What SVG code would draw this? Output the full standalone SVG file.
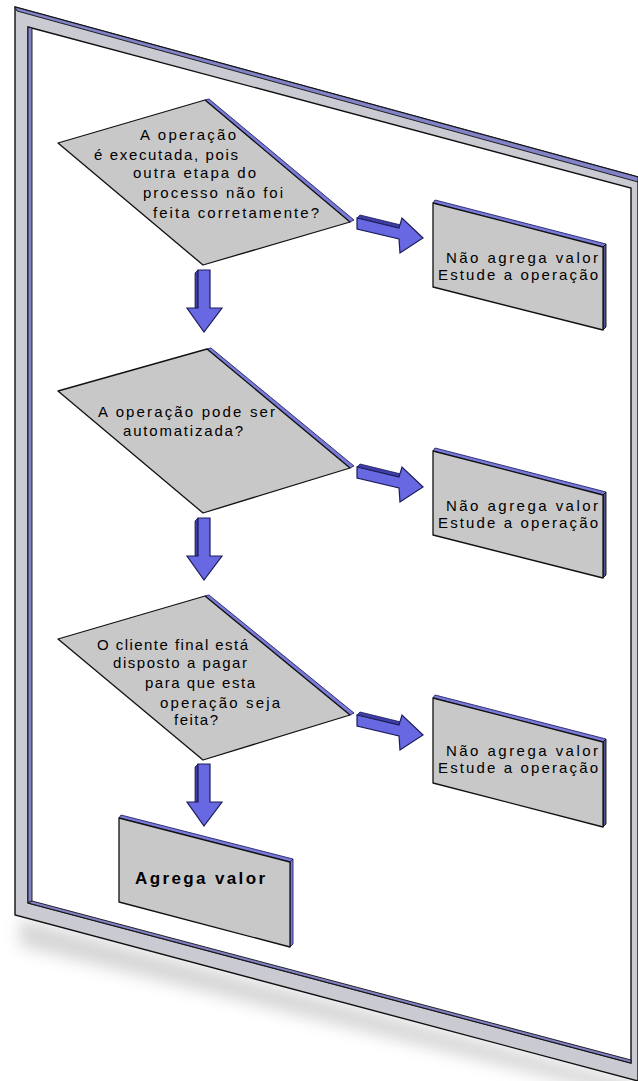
<svg xmlns="http://www.w3.org/2000/svg" width="638" height="1081" viewBox="0 0 638 1081">
<defs>
<filter id="blur" x="-20%" y="-50%" width="140%" height="200%"><feGaussianBlur stdDeviation="8"/></filter>
<style>
.frame{fill:#cacad3;stroke:#111;stroke-width:1.4;stroke-linejoin:miter}
.face{fill:#8282c6;stroke:#111;stroke-width:0.9}
.shape{fill:#c8c8c8;stroke:#111;stroke-width:1.3;stroke-linejoin:round}
.side{fill:#7a7ad8;stroke:#24246a;stroke-width:0.9}
.dside{fill:#50508e;stroke:#111;stroke-width:0.9}
.arrow{fill:#6868e2;stroke:#1c1c58;stroke-width:1.2;stroke-linejoin:miter}
.ashade{fill:#3e3ea6;stroke:#1c1c58;stroke-width:0.8}
.t{font-family:"Liberation Sans",Arial,sans-serif;font-size:15px;fill:#000}
.tb{font-family:"Liberation Sans",Arial,sans-serif;font-size:17px;font-weight:bold;fill:#000}
</style>
</defs>
<rect width="638" height="1081" fill="#fff"/>
<g id="frame">
<polygon points="20,918 634,1082 634,1098 20,946" fill="#999" opacity="0.4" filter="url(#blur)"/>
<path class="frame" fill-rule="evenodd" d="M15,7 L638,177 L638,1081 L15,915 Z M28,27 L631,188 L631,1063 L28,903 Z"/>
<polygon class="face" points="15,7 638,177 638,182 17,11"/>
<polygon class="face" points="28,27 32,28 32,901 28,903"/>
<polygon class="face" points="28,903 32,901 631,1060 631,1063"/>
</g>
<g id="connectors">
<g id="down1">
<polygon class="ashade" points="195,273 198,270 198,308 195,308"/>
<polygon class="arrow" points="198,270 210,270 210,308 222,308 204,332 187,308 198,308"/>
</g>
<g id="down2">
<polygon class="ashade" points="195,521 198,518 198,556 195,556"/>
<polygon class="arrow" points="198,518 210,518 210,556 222,556 204,580 187,556 198,556"/>
</g>
<g id="down3">
<polygon class="ashade" points="195,767 198,764 198,802 195,802"/>
<polygon class="arrow" points="198,764 210,764 210,802 222,802 204,826 187,802 198,802"/>
</g>
<g id="right1">
<polygon class="ashade" points="357,218 360,215 401,225 399,228"/>
<polygon class="arrow" points="357,218 399,228 402,218 423,238 400,253 399,239 357,229"/>
</g>
<g id="right2">
<polygon class="ashade" points="357,467 360,464 401,474 399,477"/>
<polygon class="arrow" points="357,467 399,477 402,467 423,487 400,502 399,488 357,478"/>
</g>
<g id="right3">
<polygon class="ashade" points="357,715 360,712 401,722 399,725"/>
<polygon class="arrow" points="357,715 399,725 402,715 423,735 400,750 399,736 357,726"/>
</g>
</g>
<g id="decision1">
<polygon class="side" points="205,100 209,99 354,220 350,222"/>
<polygon class="shape" points="58,143 205,100 350,222 203,265"/>
<text class="t" x="140" y="140" textLength="96" lengthAdjust="spacing">A operação</text>
<text class="t" x="94" y="160" textLength="144" lengthAdjust="spacing">é executada, pois</text>
<text class="t" x="133" y="178" textLength="123" lengthAdjust="spacing">outra etapa do</text>
<text class="t" x="143" y="198" textLength="140" lengthAdjust="spacing">processo não foi</text>
<text class="t" x="153" y="218" textLength="166" lengthAdjust="spacing">feita corretamente?</text>
</g>
<g id="decision2">
<polygon class="side" points="207,349 211,348 354,466 350,468"/>
<polygon class="shape" points="58,391 207,349 350,468 203,513"/>
<text class="t" x="98" y="417" textLength="177" lengthAdjust="spacing">A operação pode ser</text>
<text class="t" x="123" y="436" textLength="120" lengthAdjust="spacing">automatizada?</text>
</g>
<g id="decision3">
<polygon class="side" points="205,596 209,595 354,713 350,715"/>
<polygon class="shape" points="58,639 205,596 350,715 203,760"/>
<text class="t" x="97" y="650" textLength="151" lengthAdjust="spacing">O cliente final está</text>
<text class="t" x="113" y="668" textLength="134" lengthAdjust="spacing">disposto a pagar</text>
<text class="t" x="145" y="688" textLength="110" lengthAdjust="spacing">para que esta</text>
<text class="t" x="160" y="708" textLength="120" lengthAdjust="spacing">operação seja</text>
<text class="t" x="174" y="725" textLength="44" lengthAdjust="spacing">feita?</text>
</g>
<g id="result1">
<polygon class="side" points="433,203 435,200 606,244 603,247"/>
<polygon class="dside" points="603,247 606,244 606,327 603,330"/>
<polygon class="shape" points="433,203 603,247 603,330 433,287"/>
<text class="t" x="446" y="263" textLength="152" lengthAdjust="spacing">Não agrega valor</text>
<text class="t" x="438" y="280" textLength="160" lengthAdjust="spacing">Estude a operação</text>
</g>
<g id="result2">
<polygon class="side" points="433,451 435,448 606,492 603,495"/>
<polygon class="dside" points="603,495 606,492 606,575 603,578"/>
<polygon class="shape" points="433,451 603,495 603,578 433,535"/>
<text class="t" x="446" y="511" textLength="152" lengthAdjust="spacing">Não agrega valor</text>
<text class="t" x="438" y="528" textLength="160" lengthAdjust="spacing">Estude a operação</text>
</g>
<g id="result3">
<polygon class="side" points="433,698 435,695 606,739 603,742"/>
<polygon class="dside" points="603,742 606,739 606,824 603,827"/>
<polygon class="shape" points="433,698 603,742 603,827 433,783"/>
<text class="t" x="446" y="756" textLength="152" lengthAdjust="spacing">Não agrega valor</text>
<text class="t" x="438" y="773" textLength="160" lengthAdjust="spacing">Estude a operação</text>
</g>
<g id="result4">
<polygon class="side" points="119,818 121,815 293,859 290,862"/>
<polygon class="side" points="290,862 293,859 293,944 290,947"/>
<polygon class="shape" points="119,818 290,862 290,947 119,902"/>
<text class="tb" x="135" y="884" textLength="130" lengthAdjust="spacing">Agrega valor</text>
</g>
</svg>
